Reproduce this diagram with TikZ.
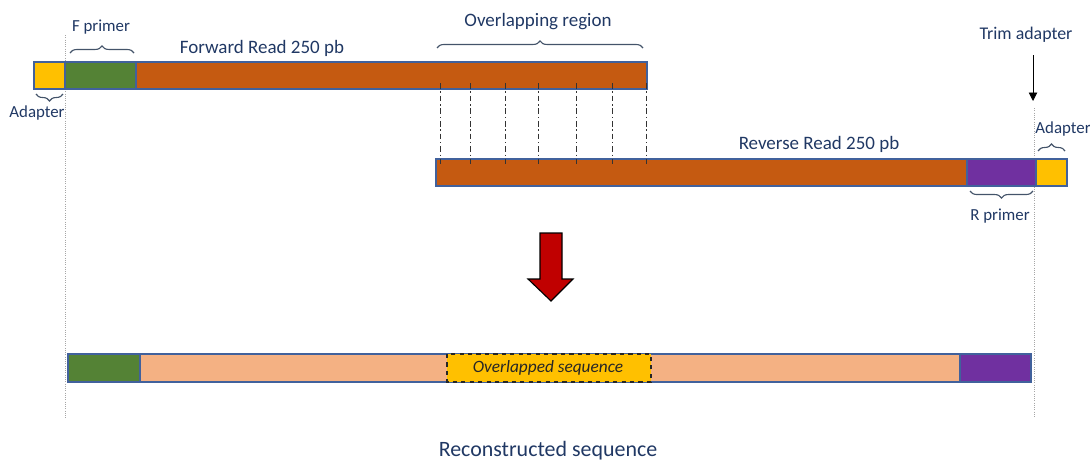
\documentclass[tikz,border=0pt]{standalone}
\usepackage{fontspec}
\setmainfont{Carlito}
\usetikzlibrary{decorations.pathreplacing,arrows.meta,calc}
\definecolor{adapt}{HTML}{FFC000}
\definecolor{prim}{HTML}{548235}
\definecolor{readcol}{HTML}{C55A11}
\definecolor{rprim}{HTML}{7030A0}
\definecolor{merged}{HTML}{F4B183}
\definecolor{edge}{HTML}{41619C}
\definecolor{txt}{HTML}{203864}
\definecolor{bracecol}{HTML}{44546A}
\definecolor{bigarrow}{HTML}{C00000}

\begin{document}
\begin{tikzpicture}[x=0.025cm,y=-0.025cm,
    seg/.style={draw=edge,line width=0.9pt},
    lbl/.style={text=txt,font=\fontsize{12}{14}\selectfont,inner sep=1pt},
    biglbl/.style={lbl,font=\fontsize{13.5}{16}\selectfont},
    brc/.style={decorate,decoration={brace,amplitude=5pt},draw=bracecol,line width=0.8pt},
    trim/.style={densely dotted,draw=gray!70,line width=0.6pt},
    pair/.style={draw=black!80,line width=0.7pt,dash pattern=on 4pt off 2pt on 1pt off 2pt}]
  \useasboundingbox (0,0) rectangle (1090,461);

  %\draw[help lines,step=50] (0,0) grid (1090,461);
  % trimming positions
  \draw[trim] (65,35) -- (65,418);
  \draw[trim] (1034,108) -- (1034,418);

  % forward read
  \draw[seg,fill=readcol] (136,62) rectangle (647,89);
  \draw[seg,fill=adapt] (34,62) rectangle (65,89);
  \draw[seg,fill=prim] (65,62) rectangle (136,89);
  \node[biglbl] (fwd) at (262,48) {Forward Read 250 pb};
  \draw[brc] (70,53) -- (134,53);
  \node[lbl] (fprim) at (101,27) {F primer};
  \draw[brc] (63,94) -- (36,94);
  \node[lbl] (fadapt) at (37,113) {Adapter};

  % reverse read
  \draw[seg,fill=readcol] (436,159) rectangle (967,186);
  \draw[seg,fill=rprim] (967,159) rectangle (1036,186);
  \draw[seg,fill=adapt] (1036,159) rectangle (1067,186);
  \node[biglbl] (rev) at (819,144) {Reverse Read 250 pb};
  \draw[brc] (1038,151) -- (1065,151);
  \node[lbl] (radapt) at (1063,129) {Adapter};
  \draw[brc] (1033,191) -- (970,191);
  \node[lbl] (rprimer) at (1000,216) {R primer};

  % overlap between both reads
  \draw[brc] (437,48) -- (643,48);
  \node[biglbl] (ovl) at (538,22) {Overlapping region};
  \foreach \x in {440,470,505,538,576,612,646}
    \draw[pair] (\x,83) -- (\x,164);

  % where the adapter is cut
  \node[lbl,font=\fontsize{12.7}{15}\selectfont] (trimlbl) at (1026,35) {Trim adapter};
  \coordinate (trimtip) at (1033,101);
  \draw[-{Triangle[length=6pt,width=6pt]},line width=0.6pt] (1033,55) -- (trimtip);

  % merge step
  \draw[fill=bigarrow,draw=black,line width=0.8pt]
    (540,233) -- (562,233) -- (562,279) -- (573,279) -- (551,301)
    -- (528,279) -- (540,279) -- cycle;

  % reconstructed sequence
  \draw[seg,fill=merged] (140,354) rectangle (960,382);
  \draw[seg,fill=prim] (68,354) rectangle (140,382);
  \draw[seg,fill=rprim] (960,354) rectangle (1031,382);
  \draw[fill=adapt,draw=black!85,dashed,line width=0.8pt] (447,354) rectangle (651,382);
  \node[lbl,text=black!85,font=\fontsize{12.3}{14}\selectfont\itshape] (ovseq) at (548,368) {Overlapped sequence};
  \node[lbl,font=\fontsize{15.6}{18}\selectfont] (recon) at (548,451) {Reconstructed sequence};
\end{tikzpicture}
\end{document}
